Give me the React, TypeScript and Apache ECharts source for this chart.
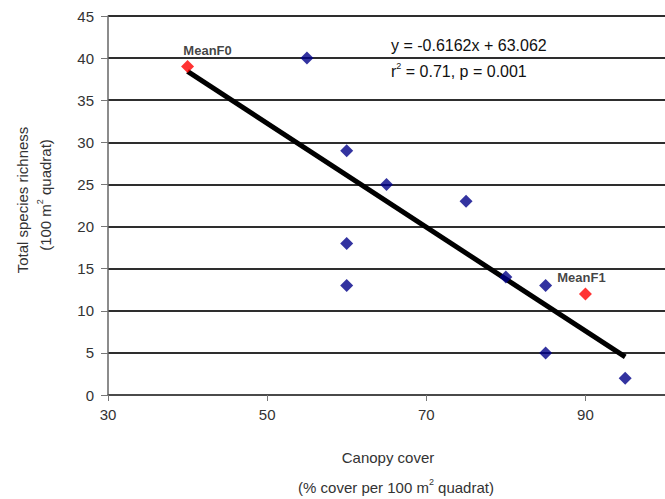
import React, { useEffect, useRef } from "react";
import * as echarts from "echarts";

const siteX = [55, 60, 60, 60, 65, 75, 80, 85, 85, 95];
const siteY = [40, 29, 18, 13, 25, 23, 14, 13, 5, 2];
const meanNames = ["MeanF0", "MeanF1"];
const meanX = [40, 90];
const meanY = [39, 12];
const slope = -0.6162;
const intercept = 63.062;
const trendX = [40, 95];
const xTicks = [30, 50, 70, 90];

export default function App() {
  const ref = useRef<HTMLDivElement>(null);
  useEffect(() => {
    if (!ref.current) return;
    const chart = echarts.init(ref.current, null, { renderer: "svg" });
    const font = "Liberation Sans, Arial, sans-serif";
    const textColor = "#333";
    chart.setOption({
      animation: false,
      backgroundColor: "#fff",
      grid: { left: 108, right: -3, top: 16, bottom: 104 },
      xAxis: {
        type: "value",
        min: 30,
        max: 100,
        interval: 20,
        splitLine: { show: false },
        axisLine: { show: true, onZero: false, lineStyle: { color: "#555", width: 1.5 } },
        axisTick: { show: true, length: 6, customValues: xTicks, lineStyle: { color: "#777" } },
        axisLabel: {
          customValues: xTicks,
          color: textColor,
          fontSize: 15,
          fontFamily: font,
          margin: 12,
        },
      },
      yAxis: {
        type: "value",
        min: 0,
        max: 45,
        interval: 5,
        axisLine: { show: true, lineStyle: { color: "#666", width: 1.5 } },
        axisTick: { show: true, length: 7, lineStyle: { color: "#777" } },
        axisLabel: { color: textColor, fontSize: 15, fontFamily: font, margin: 14 },
        splitLine: { show: true, lineStyle: { color: "#2e2e2e", width: 2.2 } },
      },
      series: [
        {
          type: "line",
          data: trendX.map((x) => [x, slope * x + intercept]),
          symbol: "none",
          lineStyle: { color: "#000", width: 5 },
          z: 3,
        },
        {
          type: "scatter",
          data: siteX.map((x, i) => [x, siteY[i]]),
          symbol: "diamond",
          symbolSize: 13,
          itemStyle: { color: "#000088" },
          z: 4,
        },
        {
          type: "scatter",
          data: meanX.map((x, i) => ({
            value: [x, meanY[i]],
            name: meanNames[i],
            label: {
              show: true,
              formatter: meanNames[i],
              position: "top",
              offset: i === 0 ? [20, 2] : [-4, 2],
              color: "#111",
              fontSize: 13,
              fontWeight: "bold",
              fontFamily: font,
            },
          })),
          symbol: "diamond",
          symbolSize: 13,
          itemStyle: { color: "#ff0000" },
          z: 5,
        },
      ],
      graphic: [
        {
          type: "text",
          x: 22,
          y: 200,
          rotation: Math.PI / 2,
          style: {
            text: "Total species richness",
            fontSize: 15,
            fontFamily: font,
            fill: textColor,
            align: "center",
            verticalAlign: "middle",
          },
        },
        {
          type: "text",
          x: 45,
          y: 195,
          rotation: Math.PI / 2,
          style: {
            text: "{a|(100 m}{s|2}{a| quadrat)}",
            fontFamily: font,
            fill: textColor,
            align: "center",
            verticalAlign: "middle",
            rich: {
              a: { fontSize: 15, fontFamily: font, fill: textColor, lineHeight: 20 },
              s: { fontSize: 9, fontFamily: font, fill: textColor, verticalAlign: "top" },
            },
          },
        },
        {
          type: "text",
          x: 388,
          y: 457,
          style: {
            text: "Canopy cover",
            fontSize: 15,
            fontFamily: font,
            fill: textColor,
            align: "center",
            verticalAlign: "middle",
          },
        },
        {
          type: "text",
          x: 396,
          y: 487,
          style: {
            text: "{a|(% cover per 100 m}{s|2}{a| quadrat)}",
            fontFamily: font,
            fill: textColor,
            align: "center",
            verticalAlign: "middle",
            rich: {
              a: { fontSize: 15, fontFamily: font, fill: textColor, lineHeight: 20 },
              s: { fontSize: 9, fontFamily: font, fill: textColor, verticalAlign: "top" },
            },
          },
        },
        {
          type: "text",
          x: 391,
          y: 45,
          style: {
            text: "y = -0.6162x + 63.062",
            fontSize: 16,
            fontFamily: font,
            fill: "#111",
            align: "left",
            verticalAlign: "middle",
          },
        },
        {
          type: "text",
          x: 391,
          y: 71,
          style: {
            text: "{a|r}{s|2}{a| = 0.71, p = 0.001}",
            fontFamily: font,
            fill: "#111",
            align: "left",
            verticalAlign: "middle",
            rich: {
              a: { fontSize: 16, fontFamily: font, fill: "#111", lineHeight: 20 },
              s: { fontSize: 9, fontFamily: font, fill: "#111", verticalAlign: "top" },
            },
          },
        },
      ],
    });
    return () => chart.dispose();
  }, []);
  return <div ref={ref} style={{ width: 665, height: 499, position: "absolute", left: 0, top: 0 }} />;
}
